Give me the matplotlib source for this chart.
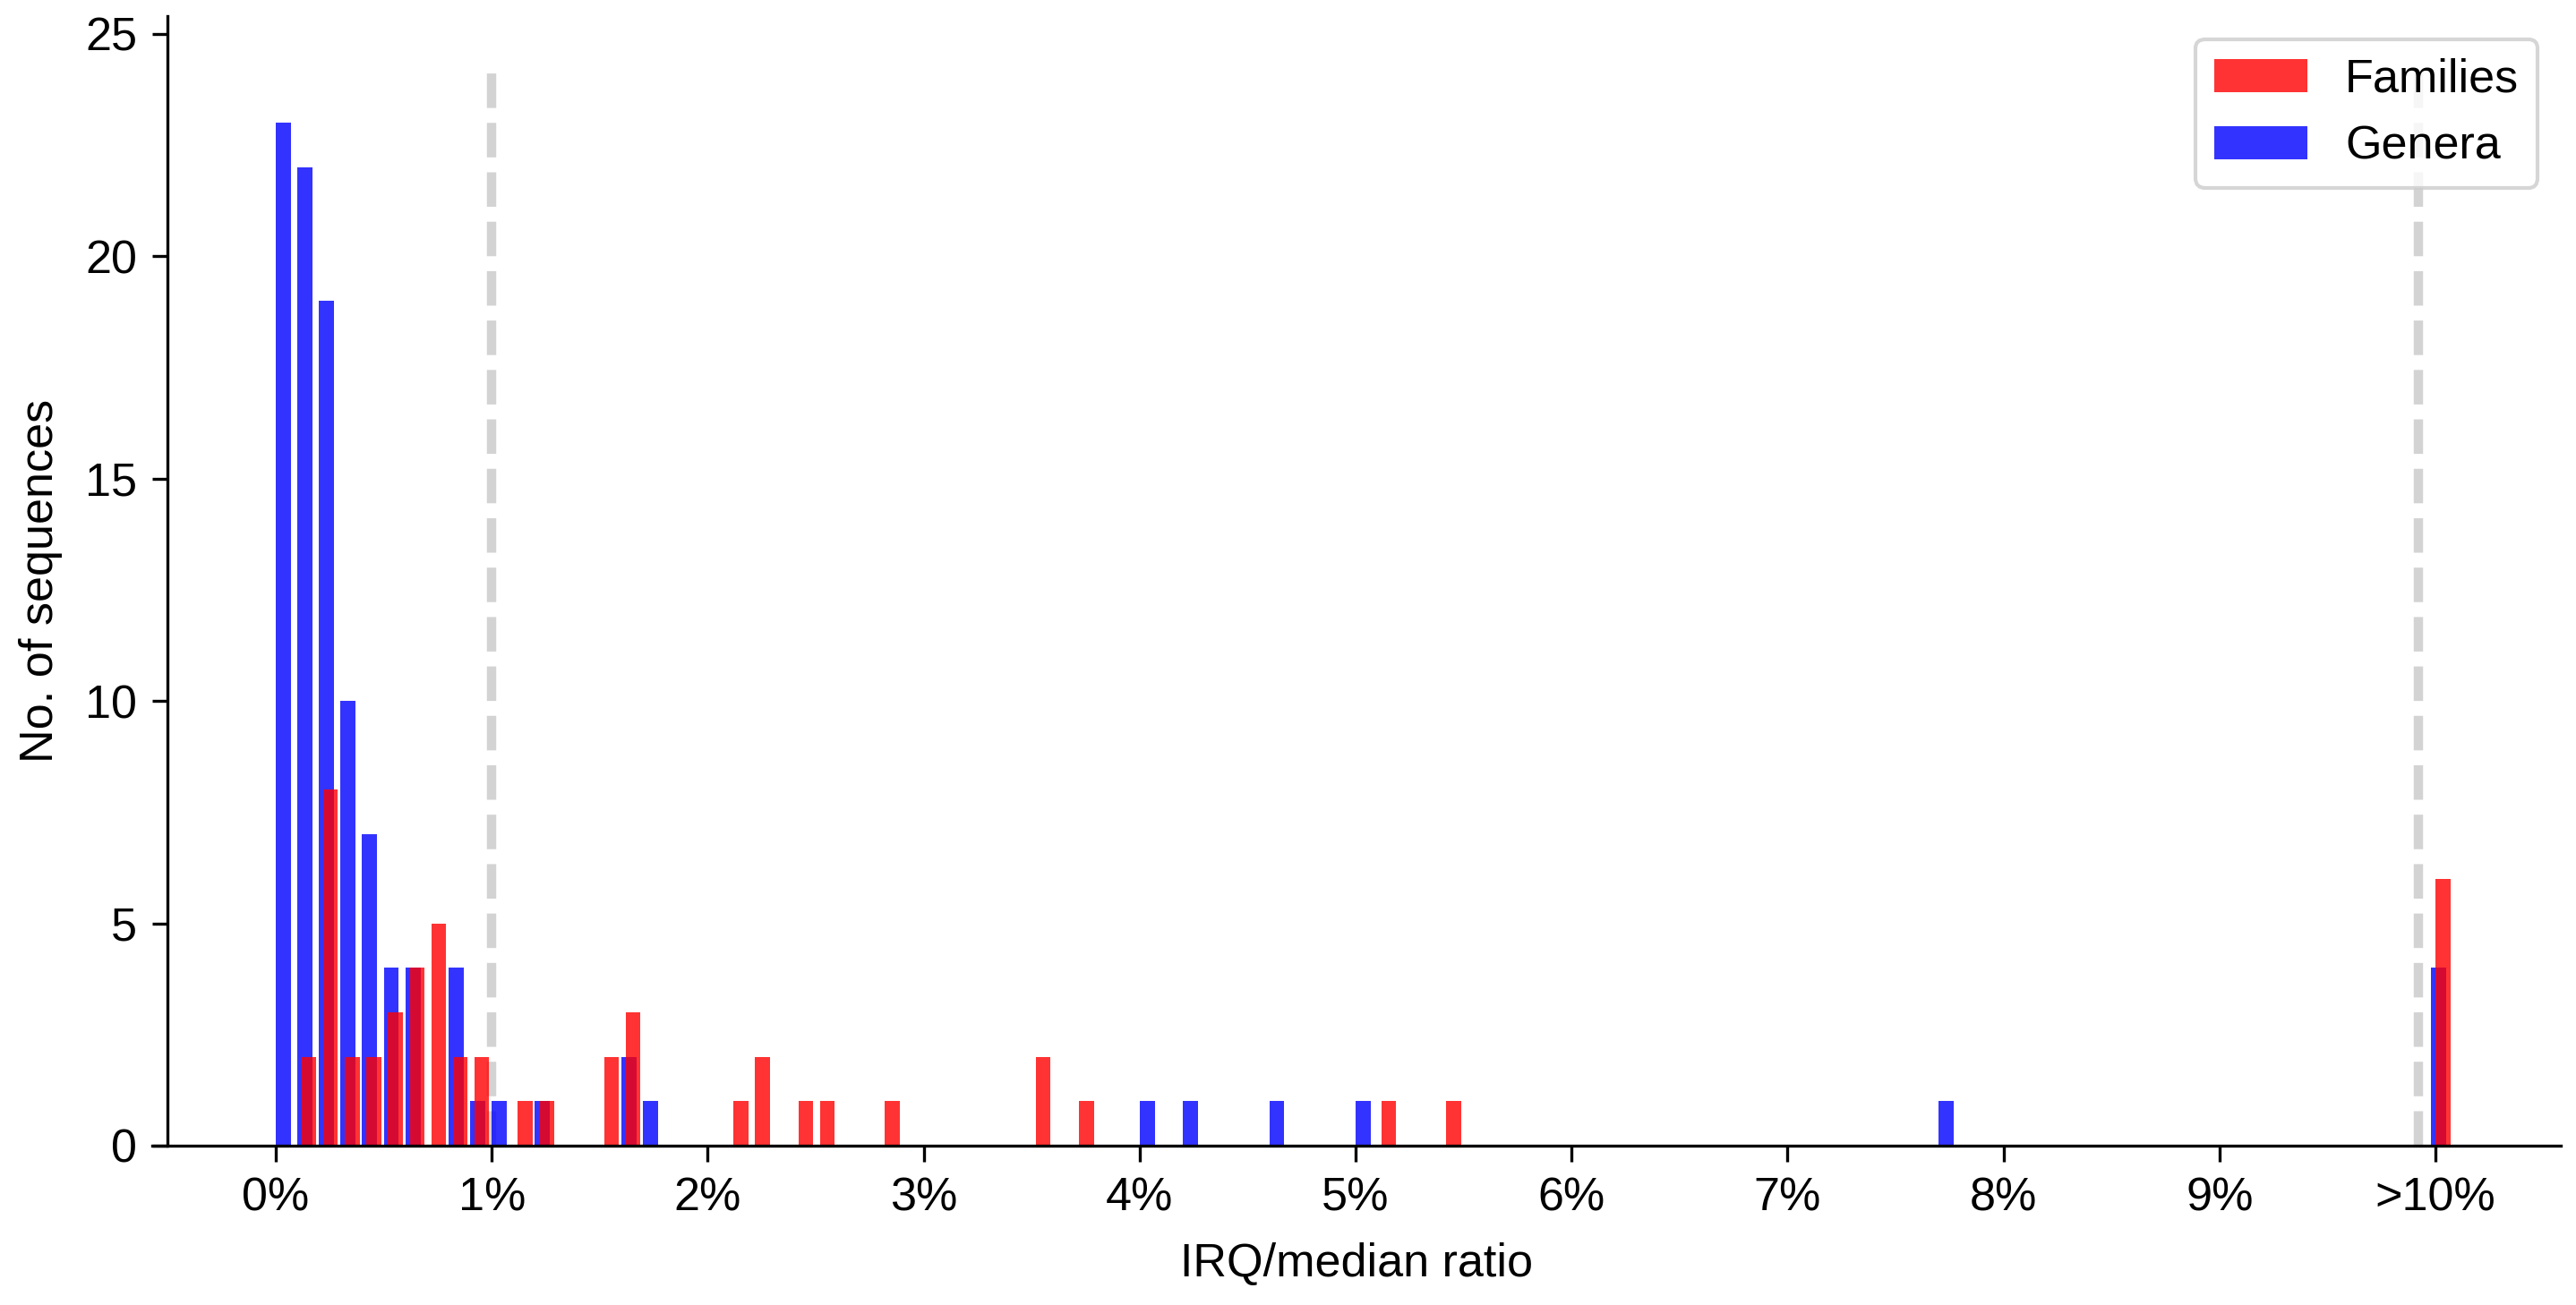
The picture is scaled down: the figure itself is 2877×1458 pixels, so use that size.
import numpy as np
import matplotlib
matplotlib.use("Agg")
import matplotlib.pyplot as plt

plt.rcParams['font.family'] = ['Liberation Sans', 'DejaVu Sans']
plt.rcParams['font.size'] = 12.5

# bin lower edge (% of IRQ/median), last bin is the ">10%" overflow
genera_bins = [0.0, 0.1, 0.2, 0.3, 0.4, 0.5, 0.6, 0.8, 0.9, 1.0, 1.2, 1.6, 1.7,
               4.0, 4.2, 4.6, 5.0, 7.7, 9.98]
genera_counts = [23, 22, 19, 10, 7, 4, 4, 4, 1, 1, 1, 2, 1,
                 1, 1, 1, 1, 1, 4]

families_bins = [0.1, 0.2, 0.3, 0.4, 0.5, 0.6, 0.7, 0.8, 0.9, 1.1, 1.2, 1.5, 1.6,
                 2.1, 2.2, 2.4, 2.5, 2.8, 3.5, 3.7, 5.1, 5.4, 9.98]
families_counts = [2, 8, 2, 2, 3, 4, 5, 2, 2, 1, 1, 2, 3,
                   1, 2, 1, 1, 1, 2, 1, 1, 1, 6]

tick_pos = list(range(11))
tick_labels = ['0%', '1%', '2%', '3%', '4%', '5%', '6%', '7%', '8%', '9%', '>10%']
cutoffs = [1.0, 9.92]

fig = plt.figure(figsize=(9.59, 4.86), dpi=300)
ax = fig.add_axes([0.0591, 0.1221, 0.935, 0.8656])

b_gen = ax.bar(np.array(genera_bins), genera_counts, width=0.07, align='edge',
               color='blue', alpha=0.8, label='Genera')
b_fam = ax.bar(np.array(families_bins) + 0.02, families_counts, width=0.068, align='edge',
               color='red', alpha=0.8, label='Families')

for c in cutoffs:
    ax.axvline(c, ymin=0, ymax=0.95, color='lightgray', linestyle='--', lw=2.5, zorder=0)

ax.set_xlim(-0.572, 10.58)
ax.set_ylim(0, 25.4)
ax.set_xticks(tick_pos)
ax.set_xticklabels(tick_labels)
ax.set_yticks([0, 5, 10, 15, 20, 25])
ax.tick_params(length=4.2, pad=4)

ax.spines['top'].set_visible(False)
ax.spines['right'].set_visible(False)
ax.spines['left'].set_position(('data', -0.5))

ax.set_xlabel('IRQ/median ratio', labelpad=6)
ax.set_ylabel('No. of sequences', labelpad=6)
ax.legend(handles=[b_fam, b_gen], loc='upper right')

fig.savefig('out.png', dpi=300)
